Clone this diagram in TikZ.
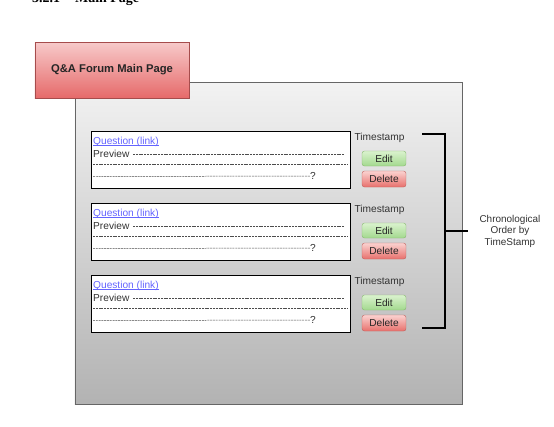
\documentclass[tikz,border=0pt]{standalone}
\usepackage{fontspec}
\setmainfont{Liberation Sans}
\newfontfamily\headfont{Liberation Serif}
\newcommand{\linkul}[1]{\setbox0\hbox{#1}\leavevmode\rlap{\rule[-1.3pt]{\wd0}{0.6pt}}\box0}
\begin{document}
\begin{tikzpicture}[x=1bp,y=-1bp,
  titlebox/.style={draw=red!50!black!70, top color=titletop, bottom color=titlebot, minimum width=154bp, minimum height=56bp, inner sep=0pt, font=\fontsize{11.3}{13}\selectfont\bfseries, text=black!85},
  panelbox/.style={draw=black!60, line width=0.8pt, top color=black!5, bottom color=black!30, minimum width=387bp, minimum height=322bp, inner sep=0pt},
  qbox/.style={draw=black, line width=0.8pt, fill=white, minimum width=259bp, minimum height=57bp, inner sep=0pt},
  smalltxt/.style={font=\fontsize{10.2}{12}\selectfont, text=black!80, inner sep=0pt},
  linktxt/.style={font=\fontsize{10.2}{12}\selectfont, text=linkblue, inner sep=0pt, anchor=west},
  dashline/.style={draw=black!70, line width=0.5pt, dash pattern=on 2pt off 0.8pt},
  editbtn/.style={draw=editborder, rounded corners=2.5bp, top color=edittop, bottom color=editbot, minimum width=44bp, minimum height=15bp, inner sep=0pt, font=\fontsize{10.2}{12}\selectfont, text=black!85},
  delbtn/.style={draw=delborder, rounded corners=2.5bp, top color=deltop, bottom color=delbot, minimum width=44bp, minimum height=16bp, inner sep=0pt, font=\fontsize{10.2}{12}\selectfont, text=black!85},
  bracket/.style={draw=black, line width=1.5pt},
]
\definecolor{titletop}{HTML}{F7CACA}
\definecolor{titlebot}{HTML}{E66A6A}
\definecolor{linkblue}{HTML}{6464FF}
\definecolor{edittop}{HTML}{DAF2CE}
\definecolor{editbot}{HTML}{A3D98E}
\definecolor{editborder}{HTML}{86B86E}
\definecolor{deltop}{HTML}{FAD2D0}
\definecolor{delbot}{HTML}{E8706C}
\definecolor{delborder}{HTML}{C0605C}
\useasboundingbox (0,0) rectangle (554,426);
\clip (0,0) rectangle (554,426);
% clipped heading
\node[font=\headfont\fontsize{14}{16}\selectfont\bfseries, anchor=base west, inner sep=0pt] (hnum) at (32,2.5) {3.2.1};
\node[font=\headfont\fontsize{14}{16}\selectfont\bfseries, anchor=base west, inner sep=0pt] (hname) at (75,2.5) {Main Page};
% panel
\node[panelbox] (panel) at (268.5,243) {};
% title
\node[titlebox] (title) at (112,70) {Q\&A Forum Main Page};
% question rows
\foreach \i/\y in {1/131,2/203,3/275}{
  \node[qbox] (q\i) at (220.5,\y+28.5) {};
  \node[linktxt] (ql\i) at (93,\y+11) {\linkul{Question (link)}};
  \node[smalltxt, anchor=west] (pv\i) at (93,\y+22.5) {Preview};
  \coordinate (da\i) at (133,\y+23);
  \coordinate (db\i) at (345,\y+23);
  \draw[dashline] (da\i) -- (db\i);
  \coordinate (dc\i) at (93,\y+33.5);
  \coordinate (dd\i) at (348,\y+33.5);
  \draw[dashline] (dc\i) -- (dd\i);
  \node[smalltxt, anchor=west] (qm\i) at (310,\y+45) {?};
  \coordinate (de\i) at (93,\y+45.5);
  \draw[dashline] (de\i) -- (qm\i.west);
  \node[smalltxt] (ts\i) at (379.5,\y+6.5) {Timestamp};
  \node[editbtn] (ed\i) at (384,\y+27.5) {Edit};
  \node[delbtn] (del\i) at (384,\y+48) {Delete};
}
% bracket
\coordinate (btop) at (422,134);
\coordinate (bbot) at (422,328);
\coordinate (bmid) at (445,231);
\draw[bracket] (btop) -- ++(23,0) -- ++(0,194) -- (bbot);
\node[smalltxt, align=center, font=\fontsize{10}{11.6}\selectfont] (lbl) at (510,231) {Chronological\\Order by\\TimeStamp};
\coordinate (stub) at (468,231);
\draw[bracket] (bmid) -- (stub);
\end{tikzpicture}
\end{document}
